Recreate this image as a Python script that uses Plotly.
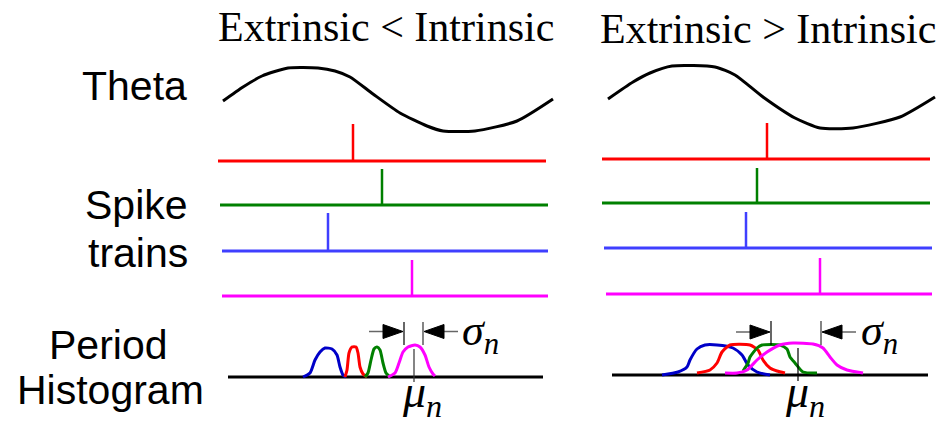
import plotly.graph_objects as go

# ---------------- data ----------------
# Theta oscillation (polyline samples) for the two panels
theta_left_x = [223, 243, 262, 288, 318, 335, 350, 373, 400, 427, 443, 475, 517, 553]
theta_left_y = [101, 87, 76, 68, 68, 71, 77, 94, 113, 126, 131, 131, 121, 99]
theta_right_x = [608, 633, 650, 672, 715, 735, 763, 795, 820, 853, 900, 935]
theta_right_y = [99, 82, 73, 66, 67, 75, 97, 118, 128, 128, 117, 97]

# Spike trains: order red, green, blue, magenta
train_colors = ["#ff0000", "#008000", "#3f3fff", "#ff00ff"]
left_train_level = [161, 205, 251, 296]
left_train_start = [218, 220, 222, 222]
left_train_end = [546, 548, 548, 548]
left_spike_time = [353, 382, 328, 412]
left_spike_top = [124, 169, 213, 260]

right_train_level = [159, 203, 248, 294]
right_train_start = [602, 602, 604, 606]
right_train_end = [930, 930, 932, 932]
right_spike_time = [767, 757, 746, 820]
right_spike_top = [123, 168, 212, 258]

# Period histograms (curves) : blue, red, green, magenta
hist_colors = ["#0000c8", "#ff0000", "#008000", "#ff00ff"]
left_hist = [
    ([303, 310, 315, 320, 325, 332, 337, 340, 343, 346],
     [377, 373, 360, 352, 348, 349, 355, 367, 375, 377]),
    ([345, 347, 349, 352, 356, 358, 360, 363, 367],
     [377, 370, 353, 347, 347, 353, 367, 374, 377]),
    ([365, 368, 371, 374, 377, 380, 383, 386, 390],
     [377, 373, 360, 349, 347, 350, 363, 373, 377]),
    ([388, 395, 399, 403, 408, 415, 420, 425, 429, 433, 435],
     [377, 373, 363, 352, 347, 345, 347, 355, 367, 374, 376]),
]
right_hist = [
    ([662, 678, 687, 690, 697, 705, 717, 733, 742, 748, 757, 770],
     [375, 372, 367, 360, 349, 345, 345, 348, 355, 365, 372, 375]),
    ([697, 710, 717, 722, 730, 750, 758, 763, 770, 777, 785],
     [373, 370, 363, 352, 345, 345, 350, 360, 368, 371, 373]),
    ([743, 748, 750, 757, 762, 780, 787, 790, 795, 803, 817],
     [371, 363, 357, 348, 345, 345, 349, 357, 363, 372, 373]),
    ([725, 737, 747, 757, 767, 780, 793, 813, 823, 830, 837, 847, 863],
     [373, 373, 370, 360, 352, 345, 343, 344, 348, 357, 365, 370, 373]),
]
left_hist_axis = ([228, 543], [377, 377])
right_hist_axis = ([612, 928], [375, 375])

# mean marker and spread markers
left_mu = 414
right_mu = 798
left_sigma = (404, 423)
right_sigma = (771, 821)

titles = ["Extrinsic < Intrinsic", "Extrinsic > Intrinsic"]
row_labels = ["Theta", "Spike", "trains", "Period", "Histogram"]

# ---------------- figure ----------------
fig = go.Figure()


def line(x, y, color, width):
    fig.add_trace(go.Scatter(x=x, y=y, mode="lines",
                             line=dict(color=color, width=width, shape="spline", smoothing=0.6),
                             hoverinfo="skip"))


def seg(x, y, color, width):
    fig.add_trace(go.Scatter(x=x, y=y, mode="lines",
                             line=dict(color=color, width=width), hoverinfo="skip"))


# theta
line(theta_left_x, theta_left_y, "black", 3)
line(theta_right_x, theta_right_y, "black", 3)

# spike trains
for lvl, xs, xe, st, top, c in zip(left_train_level, left_train_start, left_train_end,
                                   left_spike_time, left_spike_top, train_colors):
    seg([xs, xe], [lvl, lvl], c, 3)
    seg([st, st], [top, lvl], c, 2.5)
for lvl, xs, xe, st, top, c in zip(right_train_level, right_train_start, right_train_end,
                                   right_spike_time, right_spike_top, train_colors):
    seg([xs, xe], [lvl, lvl], c, 3)
    seg([st, st], [top, lvl], c, 2.5)

# histogram axes
seg(*left_hist_axis, "black", 3)
seg(*right_hist_axis, "black", 3)

# histograms
for (hx, hy), c in zip(left_hist, hist_colors):
    line(hx, hy, c, 3)
for (hx, hy), c in zip(right_hist, hist_colors):
    line(hx, hy, c, 3)

# mean markers
seg([left_mu, left_mu], [349, 382], "#333333", 1.2)
seg([right_mu, right_mu], [348, 381], "#000000", 1.2)

# sigma arrows
HEAD_LEN = 21
HEAD_HALF = 7
TAIL = 14
for (a, b), ytop, ybot, yc in [(left_sigma, 322, 345, 331.5), (right_sigma, 321, 345, 332)]:
    seg([a, a], [ytop, ybot], "#000000", 1.2)
    seg([b, b], [ytop, ybot], "#333333", 1.2)
    # left arrow pointing right toward a
    seg([a - HEAD_LEN - TAIL, a - HEAD_LEN], [yc, yc], "#666666", 1.5)
    fig.add_trace(go.Scatter(x=[a - HEAD_LEN, a - 1, a - HEAD_LEN, a - HEAD_LEN],
                             y=[yc - HEAD_HALF, yc, yc + HEAD_HALF, yc - HEAD_HALF],
                             mode="lines", fill="toself", fillcolor="black",
                             line=dict(color="black", width=1), hoverinfo="skip"))
    # right arrow pointing left toward b
    seg([b + HEAD_LEN, b + HEAD_LEN + TAIL], [yc, yc], "#666666", 1.5)
    fig.add_trace(go.Scatter(x=[b + HEAD_LEN, b + 1, b + HEAD_LEN, b + HEAD_LEN],
                             y=[yc - HEAD_HALF, yc, yc + HEAD_HALF, yc - HEAD_HALF],
                             mode="lines", fill="toself", fillcolor="black",
                             line=dict(color="black", width=1), hoverinfo="skip"))

serif = "Liberation Serif, Times New Roman, serif"
sans = "Liberation Sans, Arial, Helvetica, sans-serif"

annotations = []
for t, x, y in zip(titles, [385.5, 768], [27, 28.5]):
    annotations.append(dict(text=t, x=x, y=y, xanchor="center", yanchor="middle",
                            font=dict(family=serif, size=42, color="black")))
for t, x, y in zip(row_labels, [134, 136.6, 137.5, 108, 110], [85.5, 205, 252.6, 345.3, 390.3]):
    annotations.append(dict(text=t, x=x, y=y, xanchor="center", yanchor="middle",
                            font=dict(family=sans, size=41, color="black")))
for x in [461, 860]:
    annotations.append(dict(text="<i>σ<sub>n</sub></i>", x=x, y=333.5, xanchor="left", yanchor="middle",
                            font=dict(family=serif, size=44, color="black")))
for x in [401, 784]:
    annotations.append(dict(text="<i>μ<sub>n</sub></i>", x=x, y=395, xanchor="left", yanchor="middle",
                            font=dict(family=serif, size=46, color="black")))
for a in annotations:
    a.update(xref="x", yref="y", showarrow=False, borderpad=0)

fig.update_layout(
    width=944, height=422,
    margin=dict(l=0, r=0, t=0, b=0),
    paper_bgcolor="white", plot_bgcolor="white",
    showlegend=False,
    xaxis=dict(range=[0, 944], visible=False, fixedrange=True),
    yaxis=dict(range=[422, 0], visible=False, fixedrange=True),
    annotations=annotations,
)

fig.write_html("out.html", config={"displayModeBar": False},
               post_script="document.body.style.margin='0';document.body.style.overflow='hidden';")
